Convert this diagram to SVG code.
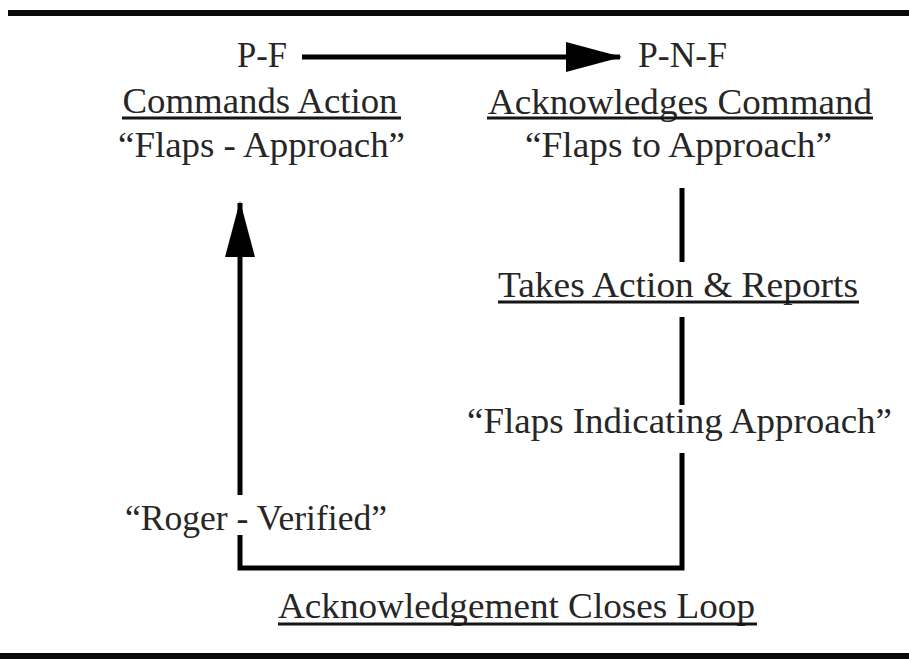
<svg xmlns="http://www.w3.org/2000/svg" width="909" height="659" viewBox="0 0 909 659">
<style>
.t{font-family:"Liberation Serif","Times New Roman",serif;font-size:36px;fill:#262626;text-anchor:middle}
.u{stroke:#151515;stroke-width:3}
.c{stroke:#000;stroke-width:5;fill:none}
.rule{fill:#0a0a0a}
</style>
<defs>
<marker id="ah" markerWidth="56" markerHeight="32" refX="54" refY="16" orient="auto" markerUnits="userSpaceOnUse">
<path d="M0,1 L56,16 L0,31 Z" fill="#000"/>
</marker>
</defs>
<rect width="909" height="659" fill="#fff"/>
<rect class="rule" x="8" y="10" width="901" height="6"/>
<rect class="rule" x="0" y="653" width="909" height="6"/>

<g id="connectors">
<line class="c" x1="302" y1="57" x2="620" y2="57" marker-end="url(#ah)"/>
<line class="c" x1="682" y1="188" x2="682" y2="262"/>
<line class="c" x1="682" y1="317" x2="682" y2="405"/>
<polyline class="c" points="682,453 682,568 240,568 240,535"/>
<line class="c" x1="240" y1="495" x2="240" y2="203" marker-end="url(#ah)"/>
</g>

<g id="pf">
<text class="t" x="262" y="67" textLength="50" lengthAdjust="spacingAndGlyphs">P-F</text>
<text class="t" x="260" y="113" textLength="275" lengthAdjust="spacingAndGlyphs">Commands Action</text>
<line class="u" x1="122" y1="118" x2="401" y2="118"/>
<text class="t" x="261.5" y="157" textLength="287" lengthAdjust="spacingAndGlyphs">“Flaps - Approach”</text>
</g>

<g id="pnf">
<text class="t" x="682.5" y="67" textLength="89" lengthAdjust="spacingAndGlyphs">P-N-F</text>
<text class="t" x="680" y="114" textLength="384" lengthAdjust="spacingAndGlyphs">Acknowledges Command</text>
<line class="u" x1="487" y1="118" x2="873" y2="118"/>
<text class="t" x="678.5" y="157" textLength="307" lengthAdjust="spacingAndGlyphs">“Flaps to Approach”</text>
</g>

<g id="takes-action">
<text class="t" x="678" y="297" textLength="360" lengthAdjust="spacingAndGlyphs">Takes Action &amp; Reports</text>
<line class="u" x1="498" y1="302" x2="859" y2="302"/>
</g>

<g id="flaps-indicating">
<text class="t" x="679.5" y="433" textLength="425" lengthAdjust="spacingAndGlyphs">“Flaps Indicating Approach”</text>
</g>

<g id="roger">
<text class="t" x="256" y="530" textLength="262" lengthAdjust="spacingAndGlyphs">“Roger - Verified”</text>
</g>

<g id="closes-loop">
<text class="t" x="516.5" y="618" textLength="477" lengthAdjust="spacingAndGlyphs">Acknowledgement Closes Loop</text>
<line class="u" x1="278" y1="624" x2="757" y2="624"/>
</g>
</svg>
